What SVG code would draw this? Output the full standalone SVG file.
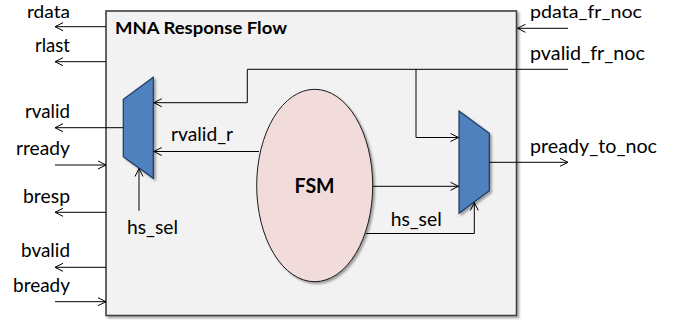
<svg xmlns="http://www.w3.org/2000/svg" width="684" height="322" viewBox="0 0 684 322">
  <defs>
    <filter id="shadow" x="-10%" y="-10%" width="130%" height="130%">
      <feDropShadow dx="2" dy="2" stdDeviation="1.2" flood-color="#000" flood-opacity="0.35"/>
    </filter>
    <marker id="arr" viewBox="-10 -6 12 12" markerWidth="12" markerHeight="12" refX="0" refY="0" orient="auto" markerUnits="userSpaceOnUse">
      <path d="M-8,-4 L0,0 L-8,4" fill="none" stroke="#000" stroke-width="1"/>
    </marker>
  </defs>
  <style>
    text { font-family: "Lato", "Liberation Sans", sans-serif; font-size: 19px; fill: #000; }
    .lbl-l { text-anchor: end; }
    .top { font-size: 18px; }
    .title { font-weight: bold; font-size: 17px; }
    .fsm { font-weight: bold; font-size: 20px; }
    .wire { fill: none; stroke: #000; stroke-width: 1; }
    .arrow { marker-end: url(#arr); }
    .mux { fill: #4f81bd; stroke: #1c3a63; stroke-width: 1.2; filter: url(#shadow); }
  </style>

  <rect width="684" height="322" fill="#fff"/>

  <!-- outer block -->
  <g id="mna-block">
    <rect x="106" y="11" width="410.5" height="304.5" fill="#f2f2f2" stroke="#404040" stroke-width="1.6" filter="url(#shadow)"/>
    <text class="title" x="115" y="34" textLength="172" lengthAdjust="spacingAndGlyphs">MNA Response Flow</text>
  </g>

  <!-- response mux toward AXI side -->
  <g id="mux-left">
    <polygon class="mux" points="153.3,77.3 123.3,99.3 123.3,156.7 153.3,178.3"/>
  </g>

  <!-- ready mux toward NoC side -->
  <g id="mux-right">
    <polygon class="mux" points="459,111 489.3,133.3 489.3,190.7 459,213.3"/>
  </g>

  <!-- state machine -->
  <g id="fsm">
    <ellipse cx="314.7" cy="185.5" rx="58" ry="96.2" fill="#f2dcdb" stroke="#1a1a1a" stroke-width="1" filter="url(#shadow)"/>
    <text class="fsm" x="314.5" y="193.3" text-anchor="middle" textLength="40" lengthAdjust="spacingAndGlyphs">FSM</text>
  </g>

  <!-- signal wires -->
  <g id="connectors">
    <path class="wire arrow" d="M106,26.7 H55"/>
    <path class="wire arrow" d="M106,61.7 H55"/>
    <path class="wire arrow" d="M123.3,127.7 H55"/>
    <path class="wire arrow" d="M55,165 H106"/>
    <path class="wire arrow" d="M106,212.3 H55"/>
    <path class="wire arrow" d="M106,267.3 H55"/>
    <path class="wire arrow" d="M55,301.7 H106"/>
    <path class="wire arrow" d="M139,210.7 V168.5"/>
    <path class="wire arrow" d="M568,28.3 H517.5"/>
    <path class="wire arrow" d="M568,69.3 H247.3 V102.7 H153.8"/>
    <path class="wire arrow" d="M416,69.3 V137.5 H458.5"/>
    <path class="wire arrow" d="M259,151.5 H153.8"/>
    <path class="wire arrow" d="M372.7,186.3 H458.5"/>
    <path class="wire arrow" d="M366,233.5 H474.3 V202.5"/>
    <path class="wire arrow" d="M489.3,162.3 H568"/>
  </g>

  <!-- port and net labels -->
  <g id="labels">
    <text class="lbl-l top" x="70" y="17.9" textLength="43" lengthAdjust="spacingAndGlyphs">rdata</text>
    <text class="lbl-l" x="70" y="51.5" textLength="35" lengthAdjust="spacingAndGlyphs">rlast</text>
    <text class="lbl-l" x="70" y="118" textLength="45" lengthAdjust="spacingAndGlyphs">rvalid</text>
    <text class="lbl-l" x="70" y="154.5" textLength="54" lengthAdjust="spacingAndGlyphs">rready</text>
    <text class="lbl-l" x="70" y="202.7" textLength="47" lengthAdjust="spacingAndGlyphs">bresp</text>
    <text class="lbl-l" x="70" y="257.3" textLength="49" lengthAdjust="spacingAndGlyphs">bvalid</text>
    <text class="lbl-l" x="70" y="291.7" textLength="57" lengthAdjust="spacingAndGlyphs">bready</text>
    <text x="127" y="234" textLength="51" lengthAdjust="spacingAndGlyphs">hs_sel</text>
    <text x="171" y="141" textLength="62" lengthAdjust="spacingAndGlyphs">rvalid_r</text>
    <text x="390.7" y="225.7" textLength="51" lengthAdjust="spacingAndGlyphs">hs_sel</text>
    <text class="top" x="530" y="17.9" textLength="112" lengthAdjust="spacingAndGlyphs">pdata_fr_noc</text>
    <text x="530" y="60" textLength="115" lengthAdjust="spacingAndGlyphs">pvalid_fr_noc</text>
    <text x="530" y="153.3" textLength="127" lengthAdjust="spacingAndGlyphs">pready_to_noc</text>
  </g>
</svg>
